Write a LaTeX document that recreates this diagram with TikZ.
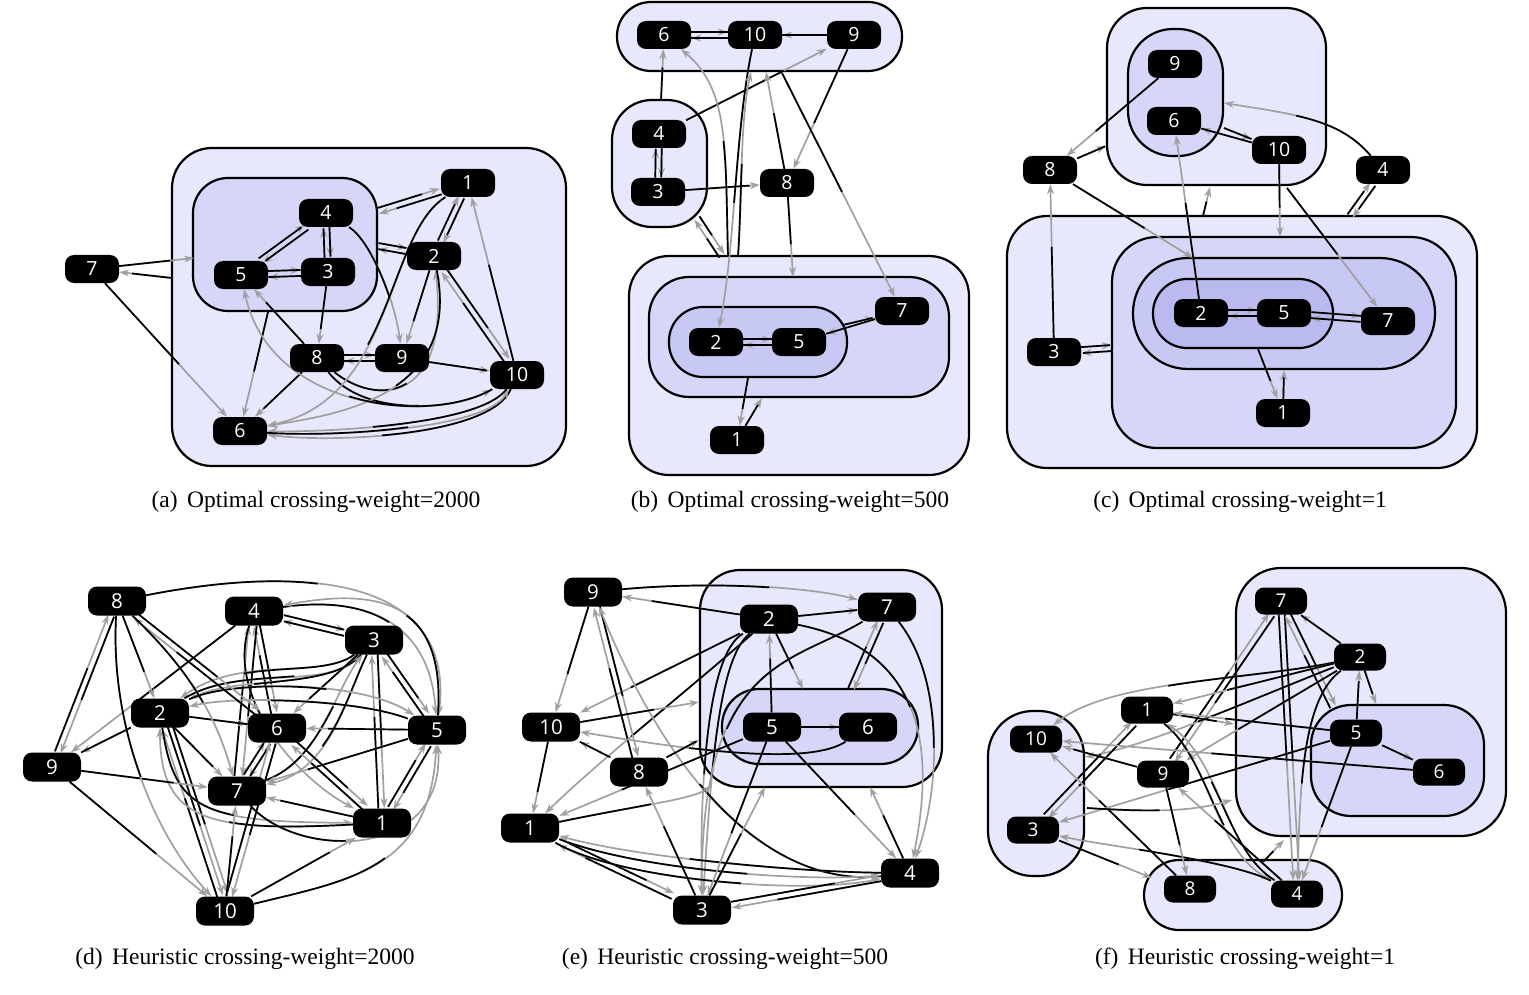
\documentclass[tikz,border=0pt]{standalone}
\usepackage{fontspec}
\setmainfont{Liberation Serif}
\newfontfamily\nodefont{Open Sans}
\usetikzlibrary{arrows.meta,calc}
\pgfdeclarelayer{clu}
\pgfdeclarelayer{edg}
\pgfsetlayers{clu,edg,main}
\definecolor{lvA}{RGB}{232,232,252}
\definecolor{lvB}{RGB}{214,214,248}
\definecolor{lvC}{RGB}{200,200,244}
\definecolor{lvD}{RGB}{186,186,240}
\definecolor{egray}{RGB}{160,160,160}
\tikzset{
  nd/.style={fill=black,rounded corners=9pt,minimum width=54pt,minimum height=28pt,inner sep=0pt,text=white,font=\nodefont\fontsize{19.5}{19.5}\selectfont},
  ndb/.style={nd,minimum width=58pt,minimum height=29pt,font=\nodefont\fontsize{20.5}{20.5}\selectfont},
  ndf/.style={nd,minimum width=52pt,minimum height=27pt,font=\nodefont\fontsize{19}{19}\selectfont},
  cl/.style={draw=black,line width=2.2pt},
  eg/.style={draw=egray,line width=1.7pt,-{Stealth[length=10pt,width=7pt]}},
  eb/.style={draw=black,line width=1.7pt},
  captxt/.style={font=\fontsize{23.5}{27}\selectfont,inner sep=0pt}
}
\newcommand\C[3]{%
  \path let \p1=($(#1)-(#2)$), \n1={0.5*veclen(\x1,\y1)} in \pgfextra{\pgfmathsetlengthmacro\tmpl{\n1}\global\let\hl\tmpl};
  \draw[eg] (#1) #3 (#2);
  \draw[eb,dash pattern=on \hl off 3000pt] (#1) #3 (#2);
}
\newcommand\E[2]{\C{#1}{#2}{--}}
\newcommand\Eo[3]{%
  \path let \p1=($(#1)!#3!90:(#2)$), \p2=(#1) in \pgfextra{\pgfmathsetlengthmacro\tmpx{\x1-\x2}\pgfmathsetlengthmacro\tmpy{\y1-\y2}\global\let\sx\tmpx\global\let\sy\tmpy};
  \begin{scope}[transform canvas={shift={(\sx,\sy)}}]\E{#1}{#2}\end{scope}
}
\newcommand\EP[2]{\Eo{#1}{#2}{3pt}\Eo{#2}{#1}{3pt}}
\begin{document}
\begin{tikzpicture}[x=1pt,y=-1pt]
\useasboundingbox (0,0) rectangle (1529,995);
% ---------------- clusters
\begin{pgfonlayer}{clu}
% (a)
\draw[cl,fill=lvA,rounded corners=40pt] (172,148) rectangle (566,466);
\draw[cl,fill=lvB,rounded corners=35pt] (193,178) rectangle (377,311);
% (b)
\draw[cl,fill=lvA,rounded corners=34pt] (617,2) rectangle (902,71);
\draw[cl,fill=lvA,rounded corners=40pt] (612,100) rectangle (707,227);
\draw[cl,fill=lvA,rounded corners=40pt] (629,256) rectangle (969,475);
\draw[cl,fill=lvB,rounded corners=40pt] (649,277) rectangle (949,397);
\draw[cl,fill=lvC,rounded corners=34pt] (669,307) rectangle (847,377);
% (c)
\draw[cl,fill=lvA,rounded corners=40pt] (1107,8) rectangle (1326,185);
\draw[cl,fill=lvB,rounded corners=45pt] (1128,29) rectangle (1223,156);
\draw[cl,fill=lvA,rounded corners=40pt] (1007,216) rectangle (1477,468);
\draw[cl,fill=lvB,rounded corners=45pt] (1112,237) rectangle (1456,448);
\draw[cl,fill=lvC,rounded corners=55pt] (1133,258) rectangle (1435,369);
\draw[cl,fill=lvD,rounded corners=34pt] (1153,279) rectangle (1333,348);
% (e)
\draw[cl,fill=lvA,rounded corners=40pt] (700,570) rectangle (942,787);
\draw[cl,fill=lvB,rounded corners=37pt] (722,689) rectangle (918,764);
% (f)
\draw[cl,fill=lvA,rounded corners=45pt] (1236,568) rectangle (1506,836);
\draw[cl,fill=lvB,rounded corners=40pt] (1311,705) rectangle (1484,816);
\draw[cl,fill=lvA,rounded corners=45pt] (988,711) rectangle (1084,876);
\draw[cl,fill=lvA,rounded corners=35pt] (1144,860) rectangle (1342,930);
\end{pgfonlayer}
% ---------------- nodes (a)
\node[nd] (a7) at (92,269) {7};
\node[nd] (a4) at (326,213) {4};
\node[nd] (a5) at (241,275) {5};
\node[nd] (a3) at (328,272) {3};
\node[nd] (a1) at (468,183) {1};
\node[nd] (a2) at (434,256) {2};
\node[nd] (a8) at (317,358) {8};
\node[nd] (a9) at (402,358) {9};
\node[nd] (a10) at (517,375) {10};
\node[nd] (a6) at (240,431) {6};
\coordinate (aC1) at (194,258);
\coordinate (aO1) at (172,278);
\coordinate (aC2) at (378,211);
\coordinate (aC3) at (378,246);
\coordinate (aC4) at (268,312);
% nodes (b)
\node[nd] (b6) at (664,35) {6};
\node[nd] (b10) at (755,35) {10};
\node[nd] (b9) at (854,35) {9};
\node[nd] (b4) at (659,134) {4};
\node[nd] (b3) at (658,192) {3};
\node[nd] (b8) at (787,183) {8};
\node[nd] (b2) at (716,342) {2};
\node[nd] (b5) at (799,342) {5};
\node[nd] (b7) at (902,311) {7};
\node[nd] (b1) at (737,440) {1};
\coordinate (bL1) at (661,100);
\coordinate (bT1) at (766,72);
\coordinate (bM1) at (793,277);
\coordinate (bT2) at (782,73);
\coordinate (bT3) at (751,72);
\coordinate (bO1) at (738,256);
\coordinate (bO2) at (728,256);
\coordinate (bL2) at (697,218);
\coordinate (bO3) at (722,256);
\coordinate (bI1) at (843,325);
\coordinate (bI2) at (748,378);
\coordinate (bM2) at (762,398);
% nodes (c)
\node[nd] (c9) at (1175,64) {9};
\node[nd] (c6) at (1174,121) {6};
\node[nd] (c10) at (1279,150) {10};
\node[nd] (c8) at (1050,170) {8};
\node[nd] (c4) at (1383,170) {4};
\node[nd] (c2) at (1201,313) {2};
\node[nd] (c5) at (1284,313) {5};
\node[nd] (c7) at (1388,321) {7};
\node[nd] (c3) at (1054,352) {3};
\node[nd] (c1) at (1283,413) {1};
\coordinate (cT1) at (1106,146);
\coordinate (cI1) at (1224,128);
\coordinate (cI2) at (1224,103);
\coordinate (cB1) at (1350,216);
\coordinate (cS1) at (1280,237);
\coordinate (cT2) at (1287,188);
\coordinate (cR1) at (1193,258);
\coordinate (cB2) at (1203,216);
\coordinate (cT3) at (1210,187);
\coordinate (cS2) at (1112,348);
\coordinate (cN1) at (1258,349);
\coordinate (cR2) at (1284,370);
% nodes (d)
\node[ndb] (d8) at (117,601) {8};
\node[ndb] (d4) at (254,611) {4};
\node[ndb] (d3) at (374,640) {3};
\node[ndb] (d2) at (160,713) {2};
\node[ndb] (d6) at (277,728) {6};
\node[ndb] (d5) at (437,730) {5};
\node[ndb] (d9) at (52,767) {9};
\node[ndb] (d7) at (237,791) {7};
\node[ndb] (d1) at (382,823) {1};
\node[ndb] (d10) at (225,911) {10};
% nodes (e)
\node[ndb] (e9) at (593,592) {9};
\node[ndb] (e2) at (769,619) {2};
\node[ndb] (e7) at (887,607) {7};
\node[ndb] (e10) at (551,727) {10};
\node[ndb] (e5) at (772,727) {5};
\node[ndb] (e6) at (868,727) {6};
\node[ndb] (e8) at (639,772) {8};
\node[ndb] (e1) at (530,828) {1};
\node[ndb] (e4) at (910,873) {4};
\node[ndb] (e3) at (702,910) {3};
\coordinate (eI1) at (803,689);
\coordinate (eI2) at (851,689);
\coordinate (eO1) at (699,702);
\coordinate (eO2) at (699,740);
\coordinate (eO3) at (712,786);
\coordinate (eO4) at (765,787);
\coordinate (eO5) at (870,787);
% nodes (f)
\node[ndf] (f7) at (1281,601) {7};
\node[ndf] (f2) at (1360,657) {2};
\node[ndf] (f1) at (1147,710) {1};
\node[ndf] (f10) at (1036,739) {10};
\node[ndf] (f5) at (1356,733) {5};
\node[ndf] (f9) at (1163,774) {9};
\node[ndf] (f6) at (1439,772) {6};
\node[ndf] (f3) at (1033,830) {3};
\node[ndf] (f8) at (1190,889) {8};
\node[ndf] (f4) at (1297,894) {4};
\coordinate (fI1) at (1333,707);
\coordinate (fI2) at (1376,704);
\coordinate (fB1) at (1234,724);
\coordinate (fL1) at (1085,757);
\coordinate (fL2) at (1087,808);
\coordinate (fB2) at (1232,800);
\coordinate (fBt1) at (1152,878);
\coordinate (fBt2) at (1263,862);
\coordinate (fB3) at (1284,840);
% ---------------- edges
\begin{pgfonlayer}{edg}
% (a)
\E{a7}{aC1}
\E{aO1}{a7}
\E{a7}{a6}
\EP{a5}{a4}
\EP{a4}{a3}
\EP{a3}{a5}
\E{a3}{a8}
\C{a4}{a9}{.. controls (370,240) and (395,300) ..}
\EP{a1}{aC2}
\EP{a2}{aC3}
\EP{a1}{a2}
\E{a2}{a9}
\E{a10}{a1}
\EP{a2}{a10}
\EP{a8}{a9}
\E{a9}{a10}
\E{a8}{a5}
\E{a8}{a6}
\E{aC4}{a6}
\C{a8}{a2}{.. controls (375,405) and (450,405) ..}
\C{a8}{a10}{.. controls (365,418) and (455,410) ..}
\C{a1}{a6}{.. controls (385,235) and (395,400) ..}
\C{a2}{a6}{.. controls (462,400) and (330,415) ..}
\C{a10}{a6}{.. controls (480,425) and (330,432) ..}
\C{a10}{a6}{.. controls (490,437) and (330,443) ..}
\C{a6}{a10}{.. controls (330,437) and (485,430) ..}
\C{a10}{a5}{.. controls (430,425) and (270,410) ..}
% (b)
\EP{b6}{b10}
\E{b9}{b10}
\E{bL1}{b6}
\EP{b3}{b4}
\E{b4}{b9}
\E{b3}{b8}
\E{b9}{b8}
\E{b8}{bT1}
\E{b8}{bM1}
\E{bT2}{b7}
\C{b10}{b2}{.. controls (735,130) and (735,250) ..}
\C{bO1}{bT3}{.. controls (742,200) and (740,120) ..}
\C{bO2}{b6}{.. controls (725,150) and (730,90) ..}
\EP{bL2}{bO3}
\E{bI1}{b7}
\E{b7}{b5}
\EP{b2}{b5}
\E{bI2}{b1}
\E{b1}{bM2}
% (c)
\E{c9}{c8}
\E{c8}{cT1}
\E{c10}{c6}
\E{cI1}{c10}
\C{c4}{cI2}{.. controls (1340,120) and (1300,115) ..}
\EP{c4}{cB1}
\E{c10}{cS1}
\E{cT2}{c7}
\E{c8}{cR1}
\E{c3}{c8}
\E{c2}{c6}
\E{cB2}{cT3}
\EP{c3}{cS2}
\EP{c2}{c5}
\EP{c5}{c7}
\E{cN1}{c1}
\E{c1}{cR2}
% (d)
\C{d8}{d5}{.. controls (300,565) and (455,575) ..}
\C{d4}{d5}{.. controls (370,595) and (430,625) ..}
\C{d5}{d4}{.. controls (445,610) and (390,585) ..}
\EP{d4}{d3}
\E{d4}{d9}
\EP{d4}{d6}
\Eo{d4}{d7}{4pt}
\Eo{d7}{d4}{4pt}
\C{d4}{d1}{.. controls (225,700) and (300,780) ..}
\C{d3}{d2}{.. controls (320,680) and (240,655) ..}
\C{d2}{d3}{.. controls (240,665) and (325,690) ..}
\C{d3}{d2}{.. controls (330,690) and (240,675) ..}
\E{d3}{d6}
\C{d3}{d7}{.. controls (345,700) and (330,770) ..}
\C{d7}{d3}{.. controls (320,760) and (335,690) ..}
\EP{d3}{d1}
\EP{d3}{d5}
\E{d2}{d6}
\E{d2}{d9}
\E{d2}{d7}
\EP{d2}{d10}
\Eo{d2}{d10}{8pt}
\C{d2}{d1}{.. controls (175,810) and (200,822) ..}
\C{d1}{d2}{.. controls (210,832) and (160,822) ..}
\C{d2}{d5}{.. controls (230,680) and (360,680) ..}
\C{d5}{d2}{.. controls (360,700) and (240,695) ..}
\E{d5}{d6}
\E{d5}{d7}
\EP{d5}{d1}
\C{d10}{d5}{.. controls (350,880) and (430,870) ..}
\C{d7}{d5}{.. controls (300,860) and (445,860) ..}
\E{d9}{d7}
\E{d9}{d10}
\EP{d9}{d8}
\E{d8}{d2}
\C{d8}{d10}{.. controls (110,720) and (150,830) ..}
\EP{d8}{d6}
\C{d8}{d7}{.. controls (200,680) and (220,730) ..}
\EP{d6}{d7}
\EP{d6}{d10}
\EP{d6}{d1}
\E{d1}{d7}
\E{d10}{d7}
\E{d10}{d1}
% (e)
\C{e9}{e7}{.. controls (700,582) and (800,585) ..}
\E{e2}{e9}
\E{e2}{e7}
\E{e2}{e10}
\C{e2}{e1}{.. controls (700,680) and (600,760) ..}
\C{e2}{e3}{.. controls (705,655) and (700,800) ..}
\C{e2}{e3}{.. controls (715,660) and (710,800) ..}
\E{e2}{eI1}
\E{e5}{e2}
\C{e2}{e4}{.. controls (925,650) and (935,750) ..}
\C{e7}{e4}{.. controls (945,680) and (940,790) ..}
\C{e7}{e3}{.. controls (790,665) and (700,660) ..}
\EP{e7}{eI2}
\E{e9}{e10}
\EP{e9}{e8}
\C{e4}{e9}{.. controls (800,885) and (690,830) ..}
\E{e10}{eO1}
\C{e6}{e10}{.. controls (810,765) and (700,752) ..}
\E{e8}{e10}
\E{e8}{eO2}
\E{e10}{e1}
\C{e1}{eO3}{.. controls (640,805) and (690,800) ..}
\E{e5}{e1}
\EP{e1}{e3}
\C{e1}{e4}{.. controls (640,870) and (800,882) ..}
\C{e4}{e1}{.. controls (800,872) and (640,858) ..}
\C{e1}{e4}{.. controls (620,880) and (800,895) ..}
\E{e5}{e6}
\E{e5}{e3}
\E{e3}{eO4}
\E{e5}{e4}
\E{e4}{eO5}
\E{e3}{e8}
\EP{e3}{e4}
% (f)
\E{f2}{f7}
\Eo{f7}{f4}{3pt}
\Eo{f7}{f4}{-3pt}
\EP{f7}{fI1}
\EP{f9}{f7}
\C{f2}{f10}{.. controls (1250,680) and (1110,680) ..}
\E{f2}{f1}
\E{f2}{f9}
\C{f2}{f4}{.. controls (1300,700) and (1300,800) ..}
\C{f2}{fL1}{.. controls (1250,700) and (1150,745) ..}
\E{f2}{fI2}
\E{f5}{f2}
\E{f1}{fB1}
\E{f5}{f1}
\EP{f1}{f3}
\C{f1}{f4}{.. controls (1210,760) and (1215,850) ..}
\C{f4}{f1}{.. controls (1225,850) and (1220,760) ..}
\E{f6}{f10}
\E{f9}{f10}
\E{f8}{f10}
\E{f5}{f6}
\E{f5}{f3}
\C{fL2}{fB2}{.. controls (1150,812) and (1190,812) ..}
\E{f5}{f4}
\C{f4}{f3}{.. controls (1230,860) and (1100,845) ..}
\E{f3}{fBt1}
\E{f9}{f8}
\E{f4}{f9}
\E{fBt2}{fB3}
\end{pgfonlayer}
% ---------------- captions
\node[captxt] (capa) at (316,502) {(a)\hspace{0.4em}Optimal crossing-weight=2000};
\node[captxt] (capb) at (790,502) {(b)\hspace{0.4em}Optimal crossing-weight=500};
\node[captxt] (capc) at (1240,502) {(c)\hspace{0.4em}Optimal crossing-weight=1};
\node[captxt] (capd) at (245,959) {(d)\hspace{0.4em}Heuristic crossing-weight=2000};
\node[captxt] (cape) at (725,959) {(e)\hspace{0.4em}Heuristic crossing-weight=500};
\node[captxt] (capf) at (1245,959) {(f)\hspace{0.4em}Heuristic crossing-weight=1};
\end{tikzpicture}
\end{document}
